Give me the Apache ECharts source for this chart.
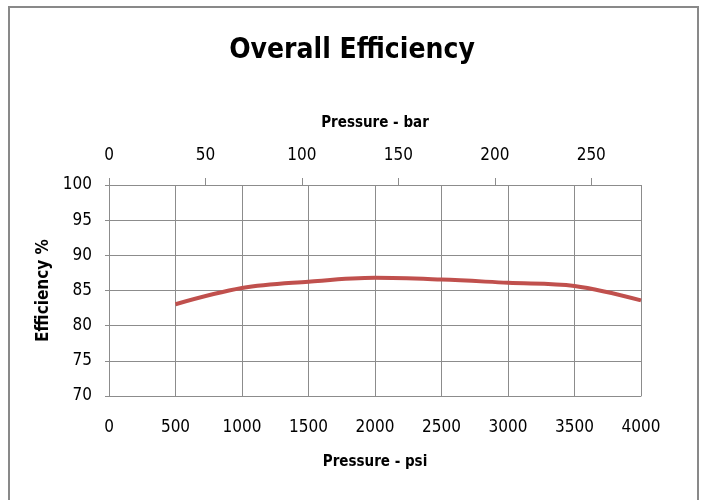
<!DOCTYPE html>
<html>
<head>
<meta charset="utf-8">
<script src="https://cdn.jsdelivr.net/npm/echarts@6/dist/echarts.min.js"></script>
<style>
html,body{margin:0;padding:0;background:#fff;}
#chart{width:704px;height:500px;}
</style>
</head>
<body>
<div id="chart"></div>
<script>
const psi = [500, 1000, 1500, 2000, 2500, 3000, 3500, 4000];
const efficiency = [83.05, 85.35, 86.25, 86.8, 86.55, 86.1, 85.65, 83.6];
const psiTicks = [0, 500, 1000, 1500, 2000, 2500, 3000, 3500, 4000];
const barTicks = [0, 50, 100, 150, 200, 250];
const effTicks = [70, 75, 80, 85, 90, 95, 100];
const PSI_PER_BAR = 14.5038;

const FONT = '"DejaVu Sans Condensed", "Open Sans", sans-serif';
const chart = echarts.init(document.getElementById('chart'));
chart.setOption({
  animation: false,
  backgroundColor: '#fff',
  title: {
    text: 'Overall Efficiency',
    left: 'center',
    top: 32,
    textStyle: {fontFamily: FONT, fontSize: 28, fontWeight: 'bold', color: '#000'}
  },
  graphic: [{
    type: 'rect',
    shape: {x: 9, y: 7, width: 689, height: 510},
    style: {fill: 'none', stroke: '#898989', lineWidth: 2},
    silent: true
  }],
  grid: {left: 109, right: 63, top: 185, bottom: 104},
  xAxis: [{
    type: 'value',
    position: 'bottom',
    min: 0, max: 4000, interval: 500,
    name: 'Pressure - psi',
    nameLocation: 'middle',
    nameGap: 59,
    nameTextStyle: {fontFamily: FONT, fontSize: 15, fontWeight: 'bold', color: '#000'},
    axisLine: {show: true, lineStyle: {color: '#8c8c8c', width: 1}},
    axisTick: {show: false},
    axisLabel: {fontFamily: FONT, fontSize: 17, color: '#000', margin: 23, customValues: psiTicks,
      formatter: v => String(v)},
    splitLine: {show: true, lineStyle: {color: '#8c8c8c', width: 1}}
  }, {
    type: 'value',
    position: 'top',
    min: 0, max: 4000 / PSI_PER_BAR,
    interval: 50,
    name: 'Pressure - bar',
    nameLocation: 'middle',
    nameGap: 54,
    nameTextStyle: {fontFamily: FONT, fontSize: 15, fontWeight: 'bold', color: '#000'},
    axisLine: {show: false},
    axisTick: {show: true, length: 7, inside: false, lineStyle: {color: '#8c8c8c'}, customValues: barTicks},
    axisLabel: {fontFamily: FONT, fontSize: 17, color: '#000', margin: 21, customValues: barTicks,
      formatter: v => String(v)},
    splitLine: {show: false}
  }],
  yAxis: {
    type: 'value',
    min: 70, max: 100, interval: 5,
    name: 'Efficiency %',
    nameLocation: 'middle',
    nameGap: 50,
    nameTextStyle: {fontFamily: FONT, fontSize: 17, fontWeight: 'bold', color: '#000'},
    axisLine: {show: true, lineStyle: {color: '#8c8c8c', width: 1}},
    axisTick: {show: true, length: 4, lineStyle: {color: '#8c8c8c'}},
    axisLabel: {fontFamily: FONT, fontSize: 17, color: '#000', margin: 17, customValues: effTicks},
    splitLine: {show: true, lineStyle: {color: '#8c8c8c', width: 1}}
  },
  series: [{
    type: 'line',
    xAxisIndex: 0,
    data: psi.map((p, i) => [p, efficiency[i]]),
    smooth: 0.35,
    showSymbol: false,
    lineStyle: {color: '#C0504D', width: 4}
  }]
});
</script>
</body>
</html>
